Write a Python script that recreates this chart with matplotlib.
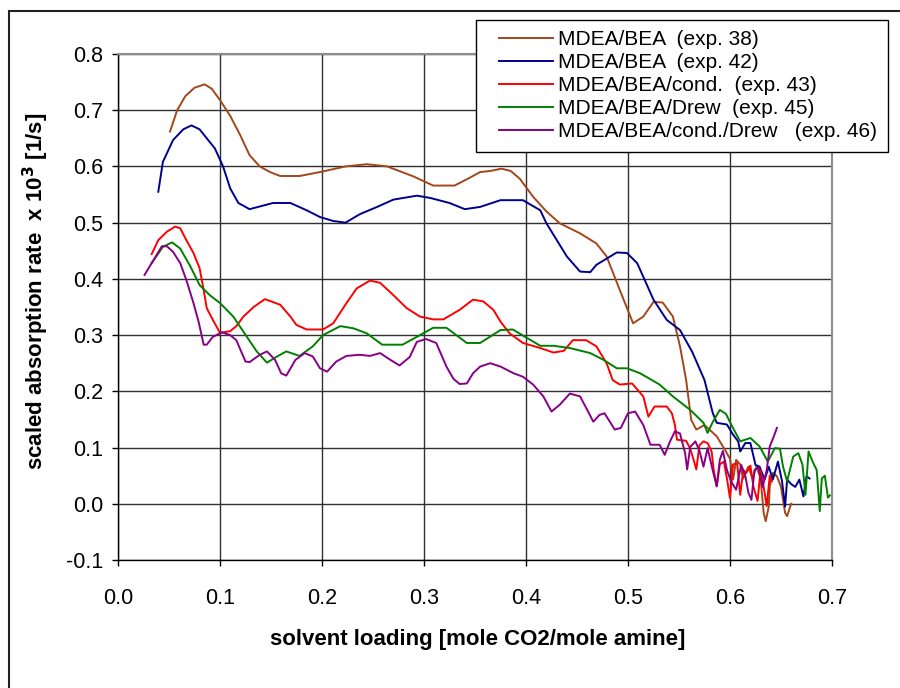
import numpy as np
import matplotlib
matplotlib.use("Agg")
import matplotlib.pyplot as plt
from matplotlib.lines import Line2D
from matplotlib.patches import Rectangle
from matplotlib.legend_handler import HandlerLine2D

plt.rcParams["font.family"] = ["Liberation Sans", "DejaVu Sans"]

# solvent loading [mole CO2/mole amine] vs scaled absorption rate x 10^3 [1/s]
exp38_x = [0.051, 0.058, 0.066, 0.075, 0.085, 0.092, 0.100, 0.110, 0.120, 0.129, 0.139, 0.149,
           0.159, 0.178, 0.198, 0.223, 0.244, 0.264, 0.290, 0.309, 0.330, 0.345, 0.355, 0.365,
           0.376, 0.385, 0.394, 0.407, 0.420, 0.433, 0.453, 0.469, 0.479, 0.492, 0.505, 0.515,
           0.525, 0.534, 0.544, 0.551, 0.557, 0.562, 0.567, 0.575, 0.587, 0.595, 0.600, 0.603,
           0.606, 0.610, 0.613, 0.618, 0.622, 0.626, 0.630, 0.633, 0.635, 0.638, 0.639, 0.642,
           0.646, 0.650, 0.654, 0.656, 0.659, 0.660]
exp38_y = [0.662, 0.700, 0.725, 0.740, 0.746, 0.738, 0.718, 0.690, 0.655, 0.620, 0.600, 0.590,
           0.583, 0.583, 0.590, 0.600, 0.604, 0.600, 0.582, 0.566, 0.566, 0.580, 0.590, 0.592,
           0.596, 0.592, 0.578, 0.546, 0.520, 0.499, 0.481, 0.463, 0.440, 0.380, 0.321, 0.333,
           0.359, 0.358, 0.333, 0.280, 0.220, 0.149, 0.132, 0.140, 0.120, 0.096, 0.080, 0.043,
           0.078, 0.070, 0.045, 0.066, 0.045, 0.066, 0.045, -0.016, -0.031, -0.005, 0.031, 0.055,
           0.049, 0.030, -0.016, -0.022, -0.005, 0.000]

exp42_x = [0.0395, 0.044, 0.054, 0.064, 0.072, 0.080, 0.095, 0.103, 0.110, 0.118, 0.129, 0.152,
           0.169, 0.185, 0.198, 0.211, 0.223, 0.237, 0.254, 0.270, 0.293, 0.306, 0.325, 0.340,
           0.355, 0.375, 0.397, 0.414, 0.420, 0.440, 0.453, 0.463, 0.469, 0.489, 0.499, 0.509,
           0.525, 0.538, 0.551, 0.563, 0.575, 0.583, 0.587, 0.597, 0.603, 0.608, 0.610, 0.615,
           0.620, 0.625, 0.629, 0.634, 0.638, 0.642, 0.647, 0.651, 0.654, 0.656, 0.660, 0.664,
           0.668, 0.672, 0.675, 0.678]
exp42_y = [0.555, 0.608, 0.647, 0.666, 0.673, 0.666, 0.632, 0.600, 0.561, 0.535, 0.524, 0.535,
           0.535, 0.522, 0.510, 0.503, 0.500, 0.515, 0.528, 0.541, 0.548, 0.544, 0.535, 0.524,
           0.528, 0.540, 0.540, 0.522, 0.499, 0.440, 0.413, 0.412, 0.425, 0.447, 0.446, 0.428,
           0.363, 0.327, 0.309, 0.270, 0.220, 0.162, 0.144, 0.141, 0.123, 0.111, 0.093, 0.108,
           0.108, 0.069, 0.066, 0.043, 0.066, 0.043, 0.075, 0.040, -0.005, 0.043, 0.035, 0.030,
           0.043, 0.013, 0.049, 0.045]

exp43_x = [0.033, 0.0395, 0.048, 0.056, 0.061, 0.067, 0.074, 0.080, 0.084, 0.087, 0.093, 0.100,
           0.110, 0.116, 0.123, 0.133, 0.144, 0.159, 0.169, 0.175, 0.185, 0.201, 0.211, 0.224,
           0.234, 0.247, 0.257, 0.270, 0.283, 0.296, 0.309, 0.319, 0.335, 0.348, 0.358, 0.368,
           0.375, 0.384, 0.397, 0.414, 0.427, 0.437, 0.446, 0.459, 0.469, 0.479, 0.485, 0.492,
           0.504, 0.515, 0.520, 0.526, 0.538, 0.543, 0.546, 0.548, 0.557, 0.561, 0.564, 0.567,
           0.570, 0.574, 0.578, 0.582, 0.584, 0.587, 0.590, 0.594, 0.597, 0.600, 0.603, 0.607,
           0.610, 0.613, 0.616, 0.620, 0.623, 0.627, 0.630, 0.633, 0.636, 0.639, 0.641]
exp43_y = [0.444, 0.469, 0.484, 0.493, 0.490, 0.469, 0.446, 0.419, 0.380, 0.348, 0.327, 0.304,
           0.307, 0.316, 0.333, 0.350, 0.364, 0.354, 0.333, 0.318, 0.310, 0.310, 0.321, 0.357,
           0.383, 0.397, 0.393, 0.371, 0.348, 0.333, 0.328, 0.328, 0.345, 0.363, 0.360, 0.345,
           0.324, 0.303, 0.286, 0.277, 0.269, 0.272, 0.291, 0.291, 0.280, 0.250, 0.220, 0.212,
           0.214, 0.191, 0.155, 0.173, 0.173, 0.161, 0.140, 0.114, 0.112, 0.098, 0.080, 0.061,
           0.104, 0.111, 0.108, 0.093, 0.060, 0.031, 0.070, 0.075, 0.045, 0.010, 0.070, 0.072,
           0.016, 0.060, 0.055, 0.068, 0.030, 0.005, 0.060, 0.030, -0.004, 0.050, 0.040]

exp45_x = [0.033, 0.044, 0.053, 0.061, 0.071, 0.080, 0.090, 0.100, 0.113, 0.123, 0.136, 0.146,
           0.156, 0.165, 0.178, 0.191, 0.201, 0.218, 0.231, 0.244, 0.259, 0.279, 0.296, 0.309,
           0.322, 0.342, 0.355, 0.375, 0.387, 0.400, 0.414, 0.427, 0.443, 0.463, 0.476, 0.489,
           0.499, 0.512, 0.531, 0.544, 0.561, 0.574, 0.578, 0.583, 0.590, 0.596, 0.602, 0.610,
           0.620, 0.629, 0.637, 0.644, 0.649, 0.652, 0.656, 0.662, 0.667, 0.671, 0.674, 0.677,
           0.681, 0.685, 0.688, 0.690, 0.693, 0.696, 0.698]
exp45_y = [0.428, 0.457, 0.465, 0.454, 0.422, 0.389, 0.371, 0.357, 0.333, 0.306, 0.271, 0.251,
           0.262, 0.271, 0.263, 0.280, 0.300, 0.316, 0.312, 0.303, 0.283, 0.283, 0.300, 0.313,
           0.313, 0.286, 0.286, 0.309, 0.310, 0.296, 0.281, 0.281, 0.277, 0.268, 0.256, 0.241,
           0.241, 0.232, 0.212, 0.191, 0.167, 0.144, 0.126, 0.145, 0.167, 0.160, 0.138, 0.111,
           0.117, 0.102, 0.075, 0.099, 0.098, 0.066, 0.040, 0.084, 0.090, 0.070, 0.016, 0.093,
           0.075, 0.060, -0.013, 0.045, 0.050, 0.011, 0.015]

exp46_x = [0.026, 0.035, 0.043, 0.048, 0.054, 0.061, 0.067, 0.074, 0.079, 0.084, 0.087, 0.093,
           0.102, 0.110, 0.116, 0.125, 0.129, 0.139, 0.146, 0.154, 0.160, 0.165, 0.174, 0.183,
           0.191, 0.198, 0.205, 0.214, 0.224, 0.237, 0.247, 0.257, 0.267, 0.276, 0.286, 0.293,
           0.302, 0.312, 0.322, 0.329, 0.335, 0.342, 0.348, 0.355, 0.365, 0.375, 0.388, 0.397,
           0.407, 0.417, 0.425, 0.433, 0.443, 0.453, 0.460, 0.466, 0.472, 0.477, 0.487, 0.493,
           0.500, 0.507, 0.515, 0.522, 0.531, 0.536, 0.541, 0.546, 0.551, 0.556, 0.558, 0.561,
           0.566, 0.570, 0.574, 0.578, 0.583, 0.587, 0.590, 0.593, 0.597, 0.601, 0.606, 0.611,
           0.615, 0.618, 0.621, 0.624, 0.628, 0.632, 0.636, 0.639, 0.643, 0.646]
exp46_y = [0.407, 0.434, 0.458, 0.458, 0.448, 0.428, 0.398, 0.357, 0.324, 0.283, 0.283, 0.297,
           0.305, 0.300, 0.291, 0.253, 0.252, 0.265, 0.271, 0.256, 0.232, 0.228, 0.256, 0.268,
           0.262, 0.241, 0.235, 0.253, 0.263, 0.265, 0.263, 0.268, 0.256, 0.246, 0.261, 0.288,
           0.293, 0.286, 0.244, 0.222, 0.213, 0.214, 0.232, 0.244, 0.250, 0.244, 0.232, 0.226,
           0.212, 0.191, 0.164, 0.176, 0.196, 0.191, 0.167, 0.146, 0.158, 0.161, 0.132, 0.135,
           0.161, 0.164, 0.140, 0.105, 0.105, 0.087, 0.110, 0.129, 0.125, 0.090, 0.061, 0.101,
           0.111, 0.095, 0.066, 0.099, 0.060, 0.031, 0.078, 0.094, 0.060, 0.040, 0.025, 0.069,
           0.050, 0.020, 0.007, 0.060, 0.065, 0.030, 0.060, 0.102, 0.120, 0.135]

series_labels = ["MDEA/BEA  (exp. 38)", "MDEA/BEA  (exp. 42)", "MDEA/BEA/cond.  (exp. 43)",
                 "MDEA/BEA/Drew  (exp. 45)", "MDEA/BEA/cond./Drew   (exp. 46)"]
series_colors = ["#A4461A", "#000090", "#FF0000", "#008000", "#880088"]
series_data = [(exp38_x, exp38_y), (exp42_x, exp42_y), (exp43_x, exp43_y),
               (exp45_x, exp45_y), (exp46_x, exp46_y)]

x_ticks = [0.0, 0.1, 0.2, 0.3, 0.4, 0.5, 0.6, 0.7]
y_ticks = [-0.1, 0.0, 0.1, 0.2, 0.3, 0.4, 0.5, 0.6, 0.7, 0.8]

W, H = 900, 688
fig = plt.figure(figsize=(W / 100, H / 100), dpi=100)
ax = fig.add_axes([118 / W, 1 - 560 / H, 714 / W, 506 / H])

for (xs, ys), c, lab in zip(series_data, series_colors, series_labels):
    ax.plot(xs, ys, color=c, lw=1.4, label=lab, solid_joinstyle="round")

ax.set_xlim(0, 0.7)
ax.set_ylim(-0.1, 0.8)
ax.set_xticks(x_ticks)
ax.set_xticklabels([f"{v:.1f}" for v in x_ticks])
ax.set_yticks(y_ticks)
ax.set_yticklabels([f"{v:.1f}" for v in y_ticks])
ax.grid(True, color="#303030", lw=1.0)
ax.set_axisbelow(True)
for side in ("top", "right"):
    ax.spines[side].set_color("#8c8c8c")
    ax.spines[side].set_linewidth(1.5)
for side in ("left", "bottom"):
    ax.spines[side].set_color("#000000")
    ax.spines[side].set_linewidth(1.0)
ax.tick_params(axis="y", direction="out", length=4, width=1, pad=6.5, labelsize=15.5)
ax.tick_params(axis="x", direction="out", length=4, width=1, pad=16, labelsize=15.5)

fig.text(478 / W, 1 - 640 / H, "solvent loading [mole CO2/mole amine]",
         ha="center", va="center", fontsize=16, fontweight="bold")
fig.text(36 / W, 1 - 291 / H, r"scaled absorption rate  x 10$^{\mathbf{3}}$ [1/s]",
         ha="center", va="center", rotation=90, fontsize=16, fontweight="bold")

fs = 15
leg = ax.legend(loc="upper left", bbox_to_anchor=(476 / W, 1 - 20 / H),
                bbox_transform=fig.transFigure, borderaxespad=0, fontsize=fs, frameon=True,
                fancybox=False, framealpha=1, edgecolor="#000000", borderpad=0.5,
                labelspacing=0.19, numpoints=2, handlelength=3.8, handletextpad=-0.34,
                handler_map={Line2D: HandlerLine2D(marker_pad=0.625)})
leg.get_frame().set_linewidth(1.0)

fig.add_artist(Rectangle((8.5 / W, -0.1), 1.2, 1.1 - 11 / H, transform=fig.transFigure,
                         fill=False, ec="#222222", lw=1.5))

fig.savefig("out.png", dpi=100)
